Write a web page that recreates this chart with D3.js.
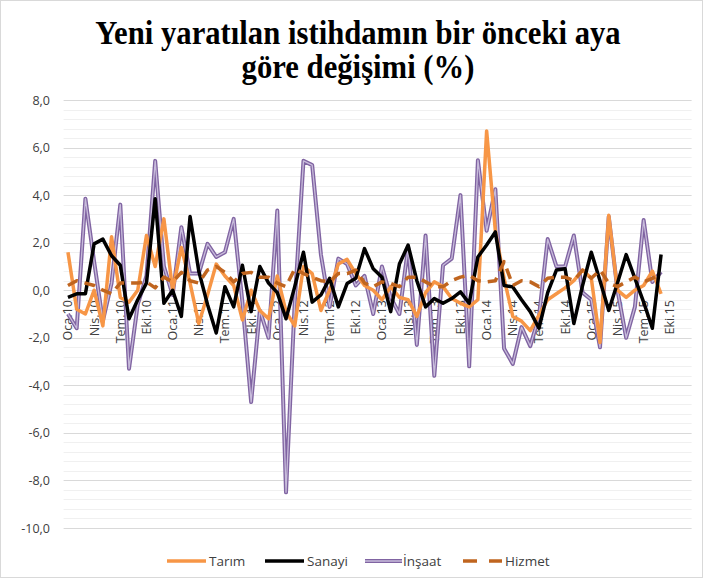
<!DOCTYPE html>
<html><head><meta charset="utf-8">
<script src="https://cdn.jsdelivr.net/npm/d3@7"></script>
<style>body{margin:0;background:#fff}svg{display:block}</style>
</head><body>
<svg id="c" width="703" height="578"></svg>
<script>
const monthNames = ["Oca","Şub","Mar","Nis","May","Haz","Tem","Ağu","Eyl","Eki","Kas","Ara"];
const years = [10,11,12,13,14,15];
const categories = [];
years.forEach(y => monthNames.forEach(m => categories.push(m + "." + y)));
const tickLabels = categories.filter((c,i) => i % 3 === 0);
const yTicks = [8,6,4,2,0,-2,-4,-6,-8,-10];

const tarim = [1.6,-0.8,-1.0,0.0,-1.5,2.25,-0.3,-0.5,0.0,2.3,1.0,3.0,0.0,1.8,0.3,-1.4,-0.2,1.1,0.6,0.2,-1.25,0.0,-0.85,-1.2,0.6,-0.9,-1.5,1.0,0.7,-0.85,0.0,1.1,1.3,0.7,0.2,0.0,-0.4,0.15,-0.3,-0.4,-1.1,-0.1,0.35,0.15,-0.35,-0.55,-0.7,-0.4,6.7,2.5,0.5,-1.1,-1.3,-1.7,-1.05,-0.4,-0.15,0.1,0.4,0.85,0.5,-2.2,3.15,0.0,-0.3,0.0,0.2,0.8,-0.15];
const sanayi = [-0.3,-0.15,-0.15,1.95,2.15,1.45,1.05,-1.2,-0.4,0.3,3.85,-0.55,0.0,-1.1,3.1,0.8,-0.6,-1.8,0.15,-0.7,1.05,-0.9,1.0,0.3,-0.1,-1.2,0.15,1.6,-0.5,-0.2,0.5,-0.7,0.28,0.5,1.75,0.9,0.55,-0.9,1.1,1.9,0.4,-0.7,-0.35,-0.55,-0.35,-0.07,-0.55,1.4,1.9,2.45,0.2,0.14,-0.4,-0.9,-1.6,-0.1,0.85,0.9,-1.4,0.2,1.6,0.4,-0.85,0.3,1.5,0.5,-0.5,-1.6,1.5];
const insaat = [-1.0,-1.6,3.85,1.2,-1.3,0.3,3.6,-3.3,-0.6,0.6,5.44,1.0,-0.2,2.65,0.7,0.7,1.95,1.4,1.6,3.0,-0.5,-4.7,-0.85,-2.0,3.35,-8.5,-0.5,5.44,5.26,1.5,-0.7,1.33,1.1,0.2,0.6,-1.0,1.0,-0.3,-1.0,1.8,-2.3,2.3,-3.6,1.05,1.33,4.0,-3.2,5.47,2.5,4.25,-2.45,-3.1,-1.55,-2.35,-1.1,2.15,1.0,1.0,2.3,-0.1,-0.4,-2.4,3.1,0.0,-2.0,-0.7,2.95,0.35,0.77];
const hizmet = [0.2,0.4,0.3,0.2,0.0,-0.15,0.3,0.3,0.3,0.35,0.1,0.55,0.35,0.75,0.4,0.3,0.85,1.0,0.75,0.35,0.7,0.75,0.55,0.55,0.3,0.15,0.9,0.7,0.55,0.4,0.35,0.7,0.7,0.85,0.3,0.15,0.35,0.28,0.15,0.55,0.55,0.35,0.15,0.15,0.4,0.55,0.63,0.4,0.35,0.4,1.2,0.2,0.4,0.35,0.15,0.5,0.55,0.55,0.4,0.85,0.5,0.85,0.3,0.15,0.35,0.55,0.35,0.5,0.7];

const svg = d3.select("#c");
svg.append("rect").attr("x",0.5).attr("y",0.5).attr("width",702).attr("height",577)
  .attr("fill","#fff").attr("stroke","#D9D9D9");

const L = 63.6, R = 691.6, T = 100, B = 528;
const x = d3.scaleBand().domain(categories).range([L,R]);
const y = d3.scaleLinear().domain([-10,8]).range([B,T]);
const cx = c => x(c) + x.bandwidth()/2;

// minor gridlines
const minor = d3.range(-10, 8.001, 0.4).filter(v => Math.abs(v/2 - Math.round(v/2)) > 1e-6);
svg.append("g").selectAll("line").data(minor).join("line")
  .attr("x1",L).attr("x2",R).attr("y1",d=>Math.round(y(d))+0.5).attr("y2",d=>Math.round(y(d))+0.5)
  .attr("stroke","#F0F0F0").attr("stroke-width",1);
// major gridlines
svg.append("g").selectAll("line").data(yTicks).join("line")
  .attr("x1",L).attr("x2",R).attr("y1",d=>Math.round(y(d))+0.5).attr("y2",d=>Math.round(y(d))+0.5)
  .attr("stroke","#D9D9D9").attr("stroke-width",1);

// y axis labels
const yAxis = d3.axisLeft(y).tickValues(yTicks).tickSize(0).tickPadding(0)
  .tickFormat(d => d3.format(".1f")(d).replace(".",",").replace("−","-"));
const gy = svg.append("g").attr("transform",`translate(50,0)`).call(yAxis);
gy.select(".domain").remove();
gy.selectAll("text").attr("font-family","Open Sans, sans-serif").attr("font-size",12.5).attr("fill","#404040");

// x axis labels (crossing at 0)
const xAxis = d3.axisBottom(x).tickValues(tickLabels).tickSize(0).tickPadding(0);
const gx = svg.append("g").attr("transform",`translate(0,${y(0)})`).call(xAxis);
gx.select(".domain").remove();
gx.selectAll("text")
  .attr("font-family","Open Sans, sans-serif").attr("font-size",12.5).attr("fill","#404040")
  .attr("transform","rotate(-90)").attr("text-anchor","end")
  .attr("x",-10).attr("y",0).attr("dy","0.35em");

const line = d3.line().x((d,i)=>cx(categories[i])).y(d=>y(d));
const g = svg.append("g").attr("fill","none").attr("stroke-linejoin","round");
g.append("path").attr("d",line(insaat)).attr("stroke","#8064A2").attr("stroke-width",4);
g.append("path").attr("d",line(insaat)).attr("stroke","#C8BCDB").attr("stroke-width",1.3);
g.append("path").attr("d",line(tarim)).attr("stroke","#F79646").attr("stroke-width",3.5);
g.append("path").attr("d",line(sanayi)).attr("stroke","#000").attr("stroke-width",3.5);
g.append("path").attr("d",line(hizmet)).attr("stroke","#C0651F").attr("stroke-width",3.5)
  .attr("stroke-dasharray","11,7");

// title
const title = svg.append("text").attr("text-anchor","middle")
  .attr("transform","translate(358,0) scale(0.93,1)")
  .attr("font-family","Liberation Serif, serif").attr("font-weight","bold")
  .attr("font-size",33).attr("fill","#000");
title.append("tspan").attr("x",0).attr("y",44).text("Yeni yaratılan istihdamın bir önceki aya");
title.append("tspan").attr("x",0).attr("y",78).text("göre değişimi (%)");

// legend
const legend = [
  {name:"Tarım", color:"#F79646", x:167},
  {name:"Sanayi", color:"#000", x:265},
  {name:"İnşaat", color:"#8064A2", x:365},
  {name:"Hizmet", color:"#C0651F", x:463, dash:true}
];
const lg = svg.append("g");
legend.forEach(d => {
  const ly = 561;
  if (d.name === "İnşaat") {
    lg.append("line").attr("x1",d.x).attr("x2",d.x+37).attr("y1",ly).attr("y2",ly).attr("stroke",d.color).attr("stroke-width",4);
    lg.append("line").attr("x1",d.x).attr("x2",d.x+37).attr("y1",ly).attr("y2",ly).attr("stroke","#C8BCDB").attr("stroke-width",1.3);
  } else {
    lg.append("line").attr("x1",d.x).attr("x2",d.x+39).attr("y1",ly).attr("y2",ly).attr("stroke",d.color).attr("stroke-width",3.5)
      .attr("stroke-dasharray", d.dash ? "14,12" : null);
  }
  lg.append("text").attr("x",d.x+(d.name==="İnşaat"?38:42)).attr("y",ly).attr("dy","0.35em")
    .attr("font-family","Open Sans, sans-serif").attr("font-size",13.5).attr("fill","#404040").text(d.name);
});
</script>
</body></html>
